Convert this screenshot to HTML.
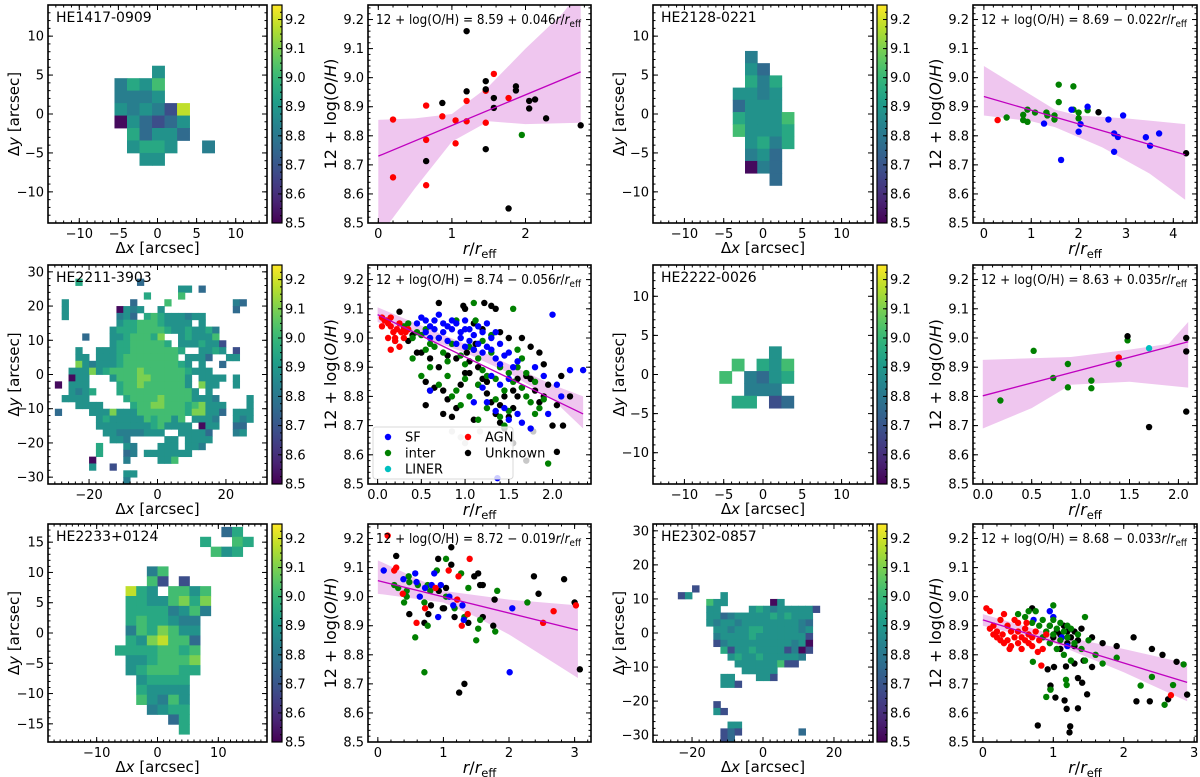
<!DOCTYPE html>
<html><head><meta charset="utf-8"><title>Metallicity maps and gradients</title>
<style>
html,body{margin:0;padding:0;background:#fff;}
svg{display:block;font-family:"DejaVu Sans","Liberation Sans",sans-serif;}
</style></head>
<body>
<svg id="fig" width="1200" height="777" viewBox="0 0 1200 777" xmlns="http://www.w3.org/2000/svg"></svg>
<script>
// ---------- MAP DATA (cell value codes: a=8.52 b=8.68 c=8.76 d=8.82 e=8.88 f=8.95 g=9.02 h=9.10 i=9.18) ----------
const levelCodes = "abcdefghi";
const levelValues = [8.52,8.68,8.76,8.82,8.88,8.95,9.02,9.10,9.18];
const gridHE1417 = ["...e....","dfeg....","ddde....","ededbi..","aecbce..",".fceec..",".effe..d","..ee...."];
const gridHE2128 = [".d...",".ec..",".fdf.","eede.","ceee.","feeeg","geeef",".efdf",".dec.",".adc.","...c."];
const gridHE2222 = ["....e.",".g.feg","g.dcef","..ddd.",".ff.bc"];
const gridHE2211 = [
"...f........c................",
"..................ee.c.......",
".............f....g..........",
".e.........c....g.........dc.",
".e.......aede..e..........c..",
".e.......dec.fgfeeedee.......",
".........effgggfeeee.e.......",
"........efffggggfeefeefd.....",
"....c...eefgggfh..efeeeg.....",
"........effgggggf.eeefeeb....",
"...e..eeeffgggggggf..eefe.b..",
"...ee.eeefgggggggg.eeec..ee..",
"...hedeeefggggggggfe.e..c....",
"..eeehefgggghggggggfeee......",
"..aee...eggghhggggge.eeee.e..",
"a.eee....fgghgggggge.hee..e..",
"..edef...fgggggggggge.e......",
".eeee.....fgggghggggeeed....e",
"...eeee....fgghhgggfgheee...e",
"c....eeeheeegggggggfhheec.eee",
"......efeeeeegfggeg.eeed..ede",
"......eeeeeeeefgeeee.aee..cc.",
".......eeddddeee..eeeec...de.",
"........eed.....ee.eeee......",
"......f...ed...eee.eed.......",
"......f...cd.eeeeeee.........",
".....a....d....eeg...........",
".....e..b....................",
"..........ee.................",
"..........d.................."];
const gridHE2233 = ["..........cf.","........f..gf",".........gef.",".............",
"...dg........","...gb.b......",".ife.ggeg....",".ffeeghfh....",".ffffdegd....",".fgffedd.....",
".dgfhgee.....",".fehiggc.....","ffffggfg.....",".eefgggh.....",".efgggff.....","..effff......",
"..feeee......","..gedge......","...deff......",".....cf......","......f......"];
const gridHE2302 = ["..b.................","be....e.............","....gee......ae.....","....ee....efedeeeeeb",
"....eecdeeeeefefeee.","....edeedeeeeeeeedc.",".....eedeeffeeeeede.",".....deeeefeeeeeeeb.",
".....bdeeeeeeeeedea.","......fbeefeeeebdab.",".......efeefeeeeed..","........eeeeeegbb...",
".........eeeee......","......ee...eeb......","......eeb...........","....................",
"....................",".....b..............",".....eb.............","....................",
".......ee...........","......bcb........c..","......bc............"];

// ---------- SCATTER DATA ----------
const s1Red = [[0.2,8.856],[0.2,8.657],[0.65,8.904],[0.65,8.786],[0.65,8.63],[0.87,8.867],[1.05,8.853],[1.05,8.774],[1.2,8.92],[1.2,8.85],[1.57,9.013],[1.46,8.955],[1.46,8.845],[1.77,8.93]];
const s1Black = [[1.2,9.16],[0.87,8.913],[1.2,8.953],[1.46,8.988],[1.46,8.96],[1.57,8.93],[1.57,8.896],[1.87,8.97],[1.87,8.956],[2.05,8.92],[2.13,8.925],[2.05,8.894],[2.28,8.86],[2.75,8.836],[1.46,8.754],[0.65,8.713],[1.77,8.55]];
const s1Green = [[1.95,8.803]];
const s1Fit = [[0,8.73],[2.75,9.02]];
const s1BandUp = [[0,8.855],[0.5,8.86],[1.0,8.875],[1.5,8.97],[2.0,9.1],[2.5,9.22],[2.75,9.3]];
const s1BandLo = [[0,8.45],[0.5,8.62],[1.0,8.78],[1.5,8.85],[2.0,8.84],[2.75,8.845]];

const s2Red = [[0.29,8.854]];
const s2Green = [[0.48,8.863],[0.83,8.872],[0.83,8.854],[0.92,8.89],[0.92,8.848],[1.08,8.88],[1.32,8.88],[1.34,8.87],[1.49,8.87],[1.49,8.856],[1.58,8.976],[1.58,8.916],[1.89,8.97],[1.89,8.89],[2.0,8.88],[2.0,8.86],[2.19,8.888]];
const s2Blue = [[1.27,8.842],[1.63,8.717],[1.85,8.89],[2.0,8.814],[2.04,8.84],[2.19,8.9],[2.63,8.856],[2.75,8.808],[2.75,8.745],[2.83,8.796],[2.94,8.87],[3.42,8.795],[3.51,8.766],[3.7,8.808]];
const s2Black = [[2.42,8.881],[4.27,8.74]];
const s2Fit = [[0,8.935],[4.25,8.735]];
const s2BandUp = [[0,9.04],[1.5,8.89],[2,8.87],[3,8.86],[4.25,8.84]];
const s2BandLo = [[0,8.87],[1,8.85],[1.5,8.83],[2.5,8.76],[3.5,8.67],[4.25,8.58]];

const s3Red = [[0.05,9.07],[0.05,9.04],[0.1,9.06],[0.12,9.05],[0.15,9.07],[0.15,9.04],[0.2,9.0],[0.22,9.03],[0.2,8.99],[0.25,8.97],[0.15,8.96],[0.12,9.0],[0.27,9.02],[0.3,9.03],[0.32,9.02],[0.3,9.0],[0.25,9.05],[0.35,9.03],[0.18,9.02],[0.08,9.06]];
const s3Blue = [[0.45,9.05],[0.5,9.07],[0.55,9.06],[0.6,9.04],[0.65,9.03],[0.7,9.08],[0.75,9.02],[0.8,9.04],[0.85,9.03],[0.9,9.05],[0.95,9.02],[1.0,9.06],[1.05,9.03],[1.1,9.01],[1.15,9.04],[1.2,9.02],[1.25,9.05],[1.3,9.0],[1.35,9.02],[1.4,8.98],[0.6,9.0],[0.7,9.0],[0.8,8.99],[0.9,8.98],[1.0,8.97],[1.1,8.96],[1.2,8.95],[1.3,8.96],[1.45,8.94],[1.5,8.95],[0.75,9.05],[0.85,9.06],[0.95,9.0],[1.05,8.99],[1.15,8.98],[1.25,8.97],[1.35,8.93],[1.4,8.91],[1.55,8.9],[1.6,8.92],[1.5,8.86],[1.4,8.84],[1.3,8.87],[1.2,8.83],[1.25,8.78],[1.35,8.75],[1.45,8.76],[1.5,8.72],[1.6,8.74],[1.65,8.71],[1.75,8.69],[1.8,8.9],[1.9,8.87],[2.0,9.08],[2.2,8.89],[2.35,8.89],[2.05,8.84],[1.95,8.74],[2.1,8.8],[0.6,8.82],[1.1,8.78],[1.37,8.52],[0.55,9.02],[0.65,9.06],[1.0,9.03]];
const s3Green = [[0.3,9.04],[0.35,9.05],[0.4,9.0],[0.45,9.02],[0.5,9.01],[0.55,9.03],[0.6,8.98],[0.65,8.97],[0.7,9.0],[0.75,8.95],[0.8,8.92],[0.85,8.98],[0.9,9.06],[0.95,8.94],[1.0,8.91],[1.05,8.97],[1.1,9.12],[1.12,9.06],[1.15,8.93],[1.2,8.89],[1.25,8.87],[1.3,8.95],[1.35,8.86],[1.4,8.9],[1.45,8.82],[1.5,8.88],[1.55,8.85],[1.6,8.9],[1.65,8.83],[1.7,8.8],[1.75,8.78],[1.8,8.74],[1.85,8.76],[1.9,8.79],[1.95,8.57],[1.55,9.1],[0.5,8.87],[0.6,8.9],[0.7,8.84],[0.8,8.87],[0.9,8.82],[1.0,8.86],[1.05,8.8],[1.15,8.84],[1.25,8.76],[1.35,8.79],[1.45,8.7],[1.5,8.75],[1.6,8.96],[1.7,8.88],[1.8,8.85],[0.4,8.93],[0.55,8.96],[1.2,8.99],[1.3,9.01],[1.4,8.73],[1.15,8.72],[0.85,8.8],[0.95,8.77],[1.65,8.93]];
const s3Black = [[0.2,8.99],[0.25,9.09],[0.35,8.99],[0.4,9.01],[0.5,8.95],[0.55,8.85],[0.6,8.82],[0.65,8.83],[0.7,8.9],[0.75,8.82],[0.8,8.79],[0.85,8.73],[0.9,8.76],[0.95,8.84],[1.0,8.88],[1.05,8.92],[1.1,8.96],[1.15,8.9],[1.2,8.86],[1.25,8.81],[1.3,8.78],[1.35,8.74],[1.4,8.71],[1.45,8.69],[1.5,8.73],[1.55,8.76],[1.6,8.8],[1.65,8.83],[1.7,8.87],[1.75,8.86],[1.8,8.82],[1.85,8.78],[1.9,8.8],[1.95,8.84],[2.0,8.7],[2.05,8.77],[2.1,8.87],[2.12,8.7],[2.2,8.8],[0.7,9.12],[0.98,9.11],[1.0,9.1],[1.22,9.12],[1.3,9.11],[1.35,9.1],[1.1,9.05],[1.2,9.03],[1.4,9.02],[1.5,9.0],[1.65,9.0],[1.75,8.97],[1.85,8.95],[1.6,8.86],[1.9,8.91],[0.45,8.95],[0.6,8.93],[0.8,8.94],[0.9,8.93],[1.05,8.88],[1.15,8.84],[1.25,8.85],[1.45,8.8],[1.55,8.82],[1.4,8.77],[0.55,8.77],[0.75,8.74],[1.1,8.72],[2.05,8.61],[1.02,8.95],[1.12,8.98]];
const s3Grey = [[0.85,8.68],[0.95,8.66],[1.0,8.64],[1.17,8.68],[1.55,8.64],[1.7,8.58],[1.78,8.68]];
const s3Fit = [[0,9.08],[2.35,8.74]];
const s3BandUp = [[0,9.105],[1,8.98],[1.5,8.91],[2,8.84],[2.35,8.8]];
const s3BandLo = [[0,9.055],[1,8.95],[1.5,8.88],[2,8.79],[2.35,8.69]];

const s4Green = [[0.18,8.786],[0.52,8.956],[0.72,8.863],[0.87,8.911],[0.87,8.831],[1.11,8.854],[1.11,8.828],[1.39,8.91],[1.48,8.992]];
const s4Red = [[1.39,8.933]];
const s4Cyan = [[1.7,8.965]];
const s4Black = [[1.48,9.006],[1.7,8.695],[2.08,9.0],[2.08,8.954],[2.08,8.748]];
const s4Fit = [[0,8.802],[2.1,8.987]];
const s4BandUp = [[0,8.925],[0.9,8.935],[1.5,8.96],[1.9,8.98],[2.1,9.055]];
const s4BandLo = [[0,8.69],[0.5,8.76],[0.9,8.84],[1.5,8.85],[2.1,8.83]];

const s5Red = [[0.15,9.21],[0.25,9.09],[0.28,9.1],[0.38,9.01],[0.59,8.91],[0.72,8.96],[0.88,9.03],[1.08,9.09],[1.21,8.99],[1.23,9.07],[1.28,8.9],[1.37,8.94],[1.4,9.13],[2.52,8.91],[2.68,8.95],[3.02,8.97]];
const s5Blue = [[0.09,9.09],[0.39,9.06],[0.57,9.08],[0.59,9.05],[0.64,9.0],[0.72,9.03],[0.82,9.04],[0.86,9.08],[0.92,8.93],[0.96,9.04],[1.09,9.0],[1.15,8.97],[1.29,8.97],[1.31,8.92],[2.05,8.96],[2.01,8.74]];
const s5Green = [[0.25,9.04],[0.31,9.03],[0.44,9.02],[0.44,9.0],[0.4,8.98],[0.47,9.07],[0.48,9.05],[0.61,9.04],[0.57,8.86],[0.71,8.98],[0.71,8.74],[0.76,9.04],[0.76,8.9],[0.8,9.02],[0.9,9.09],[1.04,9.13],[1.04,9.0],[1.17,8.96],[1.27,9.08],[1.32,8.93],[1.38,9.03],[1.5,8.85],[1.53,8.89],[1.56,8.92],[1.79,8.88],[1.82,9.02],[2.28,8.98]];
const s5Black = [[0.28,9.14],[0.48,8.94],[0.71,8.91],[0.77,8.94],[0.81,8.97],[0.92,9.13],[0.93,9.02],[0.99,8.96],[1.01,8.96],[1.04,9.03],[1.12,9.17],[1.12,9.11],[1.17,8.93],[1.24,8.67],[1.32,8.7],[1.38,8.91],[1.47,9.07],[1.53,9.08],[1.56,9.04],[1.6,9.04],[1.6,8.93],[1.76,8.9],[1.78,8.99],[2.38,9.07],[2.45,9.01],[2.84,9.06],[3.0,8.98],[3.08,8.75]];
const s5Fit = [[0,9.055],[3.05,8.885]];
const s5BandUp = [[0,9.125],[1,9.02],[2,8.99],[3.05,8.97]];
const s5BandLo = [[0,9.01],[1,8.98],[1.5,8.93],[2,8.87],[3.05,8.72]];

const s6Red = [[0.05,8.96],[0.1,8.95],[0.15,8.9],[0.2,8.88],[0.2,8.86],[0.25,8.92],[0.28,8.87],[0.3,8.84],[0.35,8.9],[0.35,8.85],[0.4,8.88],[0.4,8.83],[0.45,8.86],[0.45,8.92],[0.5,8.84],[0.5,8.88],[0.55,8.86],[0.55,8.82],[0.6,8.89],[0.6,8.85],[0.65,8.84],[0.65,8.87],[0.7,8.86],[0.7,8.83],[0.75,8.88],[0.8,8.85],[0.3,8.94],[0.15,8.87],[0.1,8.89],[0.25,8.85],[0.5,8.91],[0.85,8.82],[0.9,8.87],[0.38,8.82],[0.62,8.91],[0.78,8.81],[0.83,8.763],[2.67,8.661]];
const s6Green = [[0.5,8.94],[0.6,8.93],[0.7,8.91],[0.75,8.95],[0.8,8.9],[0.85,8.92],[0.9,8.88],[0.95,8.9],[1.0,8.92],[1.0,8.87],[1.05,8.89],[1.1,8.85],[1.1,8.91],[1.15,8.88],[1.2,8.86],[1.25,8.89],[1.3,8.84],[1.35,8.87],[1.4,8.82],[1.5,8.85],[1.6,8.8],[0.85,8.86],[0.95,8.84],[1.05,8.82],[1.15,8.8],[1.25,8.78],[1.45,8.78],[1.7,8.77],[1.9,8.79],[0.65,8.95],[1.0,8.97],[1.2,8.9],[1.45,8.93],[0.71,8.776],[0.9,8.655],[0.96,8.68],[1.18,8.714],[1.19,8.696],[2.24,8.694],[2.4,8.724],[2.58,8.628],[2.7,8.696],[2.85,8.767]];
const s6Blue = [[0.72,8.92],[0.95,8.95],[1.0,8.93],[1.2,8.83],[1.12,8.86]];
const s6Black = [[0.95,8.9],[1.0,8.86],[1.05,8.88],[1.1,8.87],[1.15,8.9],[1.2,8.88],[1.25,8.86],[1.3,8.88],[1.35,8.85],[1.2,8.84],[1.1,8.82],[1.7,8.84],[1.9,8.83],[2.14,8.86],[2.4,8.82],[2.55,8.8],[1.55,8.86],[1.3,8.83],[0.7,8.96],[1.4,8.89],[0.78,8.557],[0.96,8.694],[0.96,8.682],[1.03,8.653],[1.16,8.643],[1.19,8.614],[1.24,8.554],[1.23,8.533],[1.35,8.616],[1.35,8.72],[1.41,8.704],[1.48,8.664],[1.55,8.758],[2.18,8.64],[2.37,8.64],[2.63,8.647],[2.75,8.776],[2.9,8.663],[0.92,8.75],[1.01,8.758],[1.18,8.76],[1.3,8.77],[1.43,8.78]];
const s6Fit = [[0,8.92],[2.9,8.705]];
const s6BandUp = [[0,8.94],[1,8.87],[2,8.82],[2.9,8.77]];
const s6BandLo = [[0,8.9],[1,8.84],[2,8.74],[2.9,8.64]];

const cbTicks = [8.5,8.6,8.7,8.8,8.9,9.0,9.1,9.2];
const yTicksOH = [8.5,8.6,8.7,8.8,8.9,9.0,9.1,9.2];

// ---------- helpers ----------
const NS = "http://www.w3.org/2000/svg";
const fig = document.getElementById("fig");
function mk(tag, attrs, parent){
  const e = document.createElementNS(NS, tag);
  for (const k in attrs) e.setAttribute(k, attrs[k]);
  (parent||fig).appendChild(e);
  return e;
}
const VIR = [[68,1,84],[72,40,120],[62,73,137],[49,104,142],[38,130,142],[31,158,137],[53,183,121],[109,205,89],[180,222,44],[253,231,37]];
function viridis(t){
  t = Math.max(0, Math.min(1, t));
  const p = t*(VIR.length-1), i = Math.min(VIR.length-2, Math.floor(p)), f = p-i;
  const c = VIR[i].map((v,k)=>Math.round(v+(VIR[i+1][k]-v)*f));
  return "rgb("+c.join(",")+")";
}
function valColor(v){ return viridis((v-8.5)/0.75); }
let clipId = 0;

function frameTicks(g, ax, xs, ys, xMinor, yMinor, sx, sy, fmtX, fmtY){
  const fr = mk("rect",{x:ax.x,y:ax.y,width:ax.w,height:ax.h,fill:"none",stroke:"#000","stroke-width":1.6},g);
  
  
  const tg = mk("g",{stroke:"#000","stroke-width":1},g);
  
  
  function tick(x1,y1,x2,y2){ mk("line",{x1:x1,y1:y1,x2:x2,y2:y2},tg); }
  xMinor.forEach(v=>{const X=sx(v); if(X<ax.x||X>ax.x+ax.w) return; tick(X,ax.y+ax.h,X,ax.y+ax.h-2.5); tick(X,ax.y,X,ax.y+2.5);});
  yMinor.forEach(v=>{const Y=sy(v); if(Y<ax.y-0.1||Y>ax.y+ax.h+0.1) return; tick(ax.x,Y,ax.x+2.5,Y); tick(ax.x+ax.w,Y,ax.x+ax.w-2.5,Y);});
  xs.forEach(v=>{const X=sx(v); tick(X,ax.y+ax.h,X,ax.y+ax.h-5); tick(X,ax.y,X,ax.y+5);
    const t = mk("text",{x:X,y:ax.y+ax.h+15,"font-size":13,"text-anchor":"middle",fill:"#000"},g);
    t.textContent = fmtX(v);
    
    });
  ys.forEach(v=>{const Y=sy(v); tick(ax.x,Y,ax.x+5,Y); tick(ax.x+ax.w,Y,ax.x+ax.w-5,Y);
    const t = mk("text",{x:ax.x-4,y:Y+4.5,"font-size":13,"text-anchor":"end",fill:"#000"},g);
    t.textContent = fmtY(v);
    
    });
}
function range(a,b,s){const r=[];for(let v=a;v<=b+1e-9;v+=s) r.push(Math.round(v*1000)/1000);return r;}
function fmtInt(v){ return v<0 ? "\u2212"+Math.abs(v) : String(v); }

// ---------- map panel ----------
function drawMap(cfg){
  const g = mk("g",{});
  
  
  const ax = cfg.ax;
  const sx = v => ax.x + (v-cfg.xr[0])/(cfg.xr[1]-cfg.xr[0])*ax.w;
  const sy = v => ax.y + (cfg.yr[1]-v)/(cfg.yr[1]-cfg.yr[0])*ax.h;
  const cid = "clip"+(clipId++);
  const cp = mk("clipPath",{id:cid},g);
  mk("rect",{x:ax.x,y:ax.y,width:ax.w,height:ax.h},cp);
  const cells = mk("g",{"clip-path":"url(#"+cid+")"},g);
  
  
  cfg.grid.forEach((row,r)=>{
    for(let c=0;c<row.length;c++){
      const k = levelCodes.indexOf(row[c]); if(k<0) continue;
      const v = levelValues[k];
      const x0 = cfg.x0 + c*cfg.cw, y0 = cfg.y0 - r*cfg.ch;
      const X1 = sx(x0), X2 = sx(x0+cfg.cw), Y1 = sy(y0), Y2 = sy(y0-cfg.ch);
      const rc = mk("rect",{x:X1,y:Y1,width:X2-X1+0.4,height:Y2-Y1+0.4,fill:valColor(v)},cells);
      
      
    }
  });
  frameTicks(g, ax, cfg.xt, cfg.yt, range(Math.ceil(cfg.xr[0]/cfg.mn)*cfg.mn, cfg.xr[1], cfg.mn), range(Math.ceil(cfg.yr[0]/cfg.mn)*cfg.mn, cfg.yr[1], cfg.mn), sx, sy, fmtInt, fmtInt);
  const title = mk("text",{x:ax.x+8,y:ax.y+17,"font-size":14,fill:"#000"},g);
  title.textContent = cfg.title;
  
  
  const xl = mk("text",{x:ax.x+ax.w/2,y:ax.y+ax.h+30,"font-size":15,"text-anchor":"middle",fill:"#000"},g);
  xl.innerHTML = "\u0394<tspan font-style=\"italic\">x</tspan> [arcsec]";
  
  
  const ly = ax.y+ax.h/2;
  const yl = mk("text",{x:0,y:0,"font-size":15,"text-anchor":"middle",fill:"#000",transform:"translate("+(ax.x-29)+","+ly+") rotate(-90)"},g);
  yl.innerHTML = "\u0394<tspan font-style=\"italic\">y</tspan> [arcsec]";
  
  
  const cb = cfg.cb;
  const gid = "grad"+(clipId++);
  const lg = mk("linearGradient",{id:gid,x1:0,y1:1,x2:0,y2:0},g);
  for(let i=0;i<=20;i++) mk("stop",{offset:(i/20),"stop-color":viridis(i/20)},lg);
  const cbr = mk("rect",{x:cb.x,y:ax.y,width:cb.w,height:ax.h,fill:"url(#"+gid+")",stroke:"#000","stroke-width":1.2},g);
  
  
  const cy = v => ax.y + (9.25-v)/0.75*ax.h;
  const ctg = mk("g",{stroke:"#000","stroke-width":1},g);
  range(8.5,9.25,0.025).forEach(v=>mk("line",{x1:cb.x+cb.w,y1:cy(v),x2:cb.x+cb.w-2,y2:cy(v)},ctg));
  cbTicks.forEach(v=>{
    mk("line",{x1:cb.x+cb.w,y1:cy(v),x2:cb.x+cb.w-4,y2:cy(v)},ctg);
    const t = mk("text",{x:cb.x+cb.w+3,y:cy(v)+4.5,"font-size":13,fill:"#000"},g);
    t.textContent = v.toFixed(1);
    
    
  });
}

// ---------- scatter panel ----------
const COLORS = {SF:"#0000ff", inter:"#008000", LINER:"#00bfbf", AGN:"#ff0000", Unknown:"#000000", grey:"#c8c8c8"};
function drawScatter(cfg){
  const g = mk("g",{});
  
  
  const ax = cfg.ax;
  const yr = [8.5, 9.25];
  const sx = v => ax.x + (v-cfg.xr[0])/(cfg.xr[1]-cfg.xr[0])*ax.w;
  const sy = v => ax.y + (yr[1]-v)/(yr[1]-yr[0])*ax.h;
  const cid = "clip"+(clipId++);
  const cp = mk("clipPath",{id:cid},g);
  mk("rect",{x:ax.x,y:ax.y,width:ax.w,height:ax.h},cp);
  const inner = mk("g",{"clip-path":"url(#"+cid+")"},g);
  const pts = cfg.bandUp.map(p=>sx(p[0])+","+sy(p[1])).concat(cfg.bandLo.slice().reverse().map(p=>sx(p[0])+","+sy(p[1])));
  const band = mk("polygon",{points:pts.join(" "),fill:"#efc6ef"},inner);
  
  
  cfg.series.forEach(s=>{
    const sg = mk("g",{fill:COLORS[s.cls]},inner);
    
    
    s.data.forEach(p=>{
      const c = mk("circle",{cx:sx(p[0]),cy:sy(p[1]),r:3.2},sg);
      
      
    });
  });
  const fl = mk("line",{x1:sx(cfg.fit[0][0]),y1:sy(cfg.fit[0][1]),x2:sx(cfg.fit[1][0]),y2:sy(cfg.fit[1][1]),stroke:"#bf00bf","stroke-width":1.3},inner);
  
  
  if(cfg.legend){
    const lgG = mk("g",{},g);
    
    
    const box = mk("rect",{x:ax.x+5,y:ax.y+ax.h-57,width:140,height:52,rx:3,fill:"rgba(255,255,255,0.8)",stroke:"#d8d8d8","stroke-width":1},lgG);
    
    
    const entries = [["SF",0,0],["inter",0,1],["LINER",0,2],["AGN",1,0],["Unknown",1,1]];
    entries.forEach(e=>{
      const ex = ax.x + 20 + e[1]*80, ey = ax.y+ax.h-47 + e[2]*16;
      const m = mk("circle",{cx:ex,cy:ey,r:3.2,fill:COLORS[e[0]]},lgG);
      
      
      const t = mk("text",{x:ex+17,y:ey+4.5,"font-size":13,fill:"#000"},lgG);
      t.textContent = e[0];
      
      
    });
  }
  frameTicks(g, ax, cfg.xt, yTicksOH, range(0, cfg.xr[1], cfg.xMinor), range(8.5,9.25,0.02), sx, sy, cfg.fmtX, v=>v.toFixed(1));
  const an = mk("text",{x:ax.x+8,y:ax.y+19,"font-size":13,fill:"#000",textLength:ax.w-18,lengthAdjust:"spacingAndGlyphs"},g);
  an.innerHTML = "12 + log(O/H) = "+cfg.eq+"<tspan font-style=\"italic\">r</tspan>/<tspan font-style=\"italic\">r</tspan><tspan font-size=\"9.5\" dy=\"3\">eff</tspan>";
  
  
  const xl = mk("text",{x:ax.x+ax.w/2,y:ax.y+ax.h+31,"font-size":16,"text-anchor":"middle",fill:"#000"},g);
  xl.innerHTML = "<tspan font-style=\"italic\">r</tspan>/<tspan font-style=\"italic\">r</tspan><tspan font-size=\"11.5\" dy=\"4\">eff</tspan>";
  
  
  const ly = ax.y+ax.h/2;
  const yl = mk("text",{x:0,y:0,"font-size":16,"text-anchor":"middle",fill:"#000",transform:"translate("+(ax.x-32)+","+ly+") rotate(-90)"},g);
  yl.innerHTML = "12 + log(<tspan font-style=\"italic\">O</tspan>/<tspan font-style=\"italic\">H</tspan>)";
  
  
}

// ---------- build ----------
const fmt1 = v=>v.toFixed(1), fmt0 = v=>String(v);
const row = [{y:5,h:218},{y:265,h:219},{y:524,h:218}];
const colL = {map:48, cb:272, sc:368}, colR = {map:653, cb:877, sc:973};

drawMap({name:"map-he1417-0909",title:"HE1417-0909",grid:gridHE1417,x0:-5.5,y0:6.2,cw:1.6,ch:1.6,
  ax:{x:colL.map,y:row[0].y,w:219,h:row[0].h},xr:[-14,14],yr:[-14,14],xt:[-10,-5,0,5,10],yt:[-10,-5,0,5,10],mn:1,cb:{x:colL.cb,w:10}});
drawMap({name:"map-he2128-0221",title:"HE2128-0221",grid:gridHE2128,x0:-3.85,y0:8.1,cw:1.56,ch:1.57,
  ax:{x:colR.map,y:row[0].y,w:220,h:row[0].h},xr:[-14,14],yr:[-14,14],xt:[-10,-5,0,5,10],yt:[-10,-5,0,5,10],mn:1,cb:{x:colR.cb,w:10}});
drawMap({name:"map-he2211-3903",title:"HE2211-3903",grid:gridHE2211,x0:-30,y0:28,cw:2,ch:2,
  ax:{x:colL.map,y:row[1].y,w:219,h:row[1].h},xr:[-32,32],yr:[-32,32],xt:[-20,0,20],yt:[-30,-20,-10,0,10,20,30],mn:2,cb:{x:colL.cb,w:10}});
drawMap({name:"map-he2222-0026",title:"HE2222-0026",grid:gridHE2222,x0:-5.56,y0:3.6,cw:1.58,ch:1.58,
  ax:{x:colR.map,y:row[1].y,w:220,h:row[1].h},xr:[-14,14],yr:[-14,14],xt:[-10,-5,0,5,10],yt:[-10,-5,0,5,10],mn:1,cb:{x:colR.cb,w:10}});
drawMap({name:"map-he2233-0124",title:"HE2233+0124",grid:gridHE2233,x0:-7,y0:17.52,cw:1.75,ch:1.63,
  ax:{x:colL.map,y:row[2].y,w:219,h:row[2].h},xr:[-18,18],yr:[-18,18],xt:[-10,0,10],yt:[-15,-10,-5,0,5,10,15],mn:1,cb:{x:colL.cb,w:10}});
drawMap({name:"map-he2302-0857",title:"HE2302-0857",grid:gridHE2302,x0:-24,y0:14,cw:2,ch:2,
  ax:{x:colR.map,y:row[2].y,w:220,h:row[2].h},xr:[-31,31],yr:[-32,32],xt:[-20,0,20],yt:[-30,-20,-10,0,10,20,30],mn:2,cb:{x:colR.cb,w:10}});

drawScatter({name:"gradient-he1417-0909",ax:{x:colL.sc,y:row[0].y,w:223,h:row[0].h},xr:[-0.14,2.89],xt:[0,1,2],xMinor:0.2,fmtX:fmt0,
  eq:"8.59 + 0.046",fit:s1Fit,bandUp:s1BandUp,bandLo:s1BandLo,
  series:[{cls:"AGN",data:s1Red},{cls:"Unknown",data:s1Black},{cls:"inter",data:s1Green}]});
drawScatter({name:"gradient-he2128-0221",ax:{x:colR.sc,y:row[0].y,w:224,h:row[0].h},xr:[-0.23,4.5],xt:[0,1,2,3,4],xMinor:0.2,fmtX:fmt0,
  eq:"8.69 \u2212 0.022",fit:s2Fit,bandUp:s2BandUp,bandLo:s2BandLo,
  series:[{cls:"AGN",data:s2Red},{cls:"inter",data:s2Green},{cls:"SF",data:s2Blue},{cls:"Unknown",data:s2Black}]});
drawScatter({name:"gradient-he2211-3903",ax:{x:colL.sc,y:row[1].y,w:223,h:row[1].h},xr:[-0.11,2.44],xt:[0,0.5,1,1.5,2],xMinor:0.1,fmtX:fmt1,
  eq:"8.74 \u2212 0.056",fit:s3Fit,bandUp:s3BandUp,bandLo:s3BandLo,legend:true,
  series:[{cls:"grey",data:s3Grey},{cls:"Unknown",data:s3Black},{cls:"inter",data:s3Green},{cls:"SF",data:s3Blue},{cls:"AGN",data:s3Red}]});
drawScatter({name:"gradient-he2222-0026",ax:{x:colR.sc,y:row[1].y,w:224,h:row[1].h},xr:[-0.1,2.19],xt:[0,0.5,1,1.5,2],xMinor:0.1,fmtX:fmt1,
  eq:"8.63 + 0.035",fit:s4Fit,bandUp:s4BandUp,bandLo:s4BandLo,
  series:[{cls:"inter",data:s4Green},{cls:"AGN",data:s4Red},{cls:"LINER",data:s4Cyan},{cls:"Unknown",data:s4Black}]});
drawScatter({name:"gradient-he2233-0124",ax:{x:colL.sc,y:row[2].y,w:223,h:row[2].h},xr:[-0.15,3.25],xt:[0,1,2,3],xMinor:0.2,fmtX:fmt0,
  eq:"8.72 \u2212 0.019",fit:s5Fit,bandUp:s5BandUp,bandLo:s5BandLo,
  series:[{cls:"Unknown",data:s5Black},{cls:"inter",data:s5Green},{cls:"SF",data:s5Blue},{cls:"AGN",data:s5Red}]});
drawScatter({name:"gradient-he2302-0857",ax:{x:colR.sc,y:row[2].y,w:224,h:row[2].h},xr:[-0.14,3.04],xt:[0,1,2,3],xMinor:0.2,fmtX:fmt0,
  eq:"8.68 \u2212 0.033",fit:s6Fit,bandUp:s6BandUp,bandLo:s6BandLo,
  series:[{cls:"Unknown",data:s6Black},{cls:"SF",data:s6Blue},{cls:"inter",data:s6Green},{cls:"AGN",data:s6Red}]});
</script>
</body></html>
